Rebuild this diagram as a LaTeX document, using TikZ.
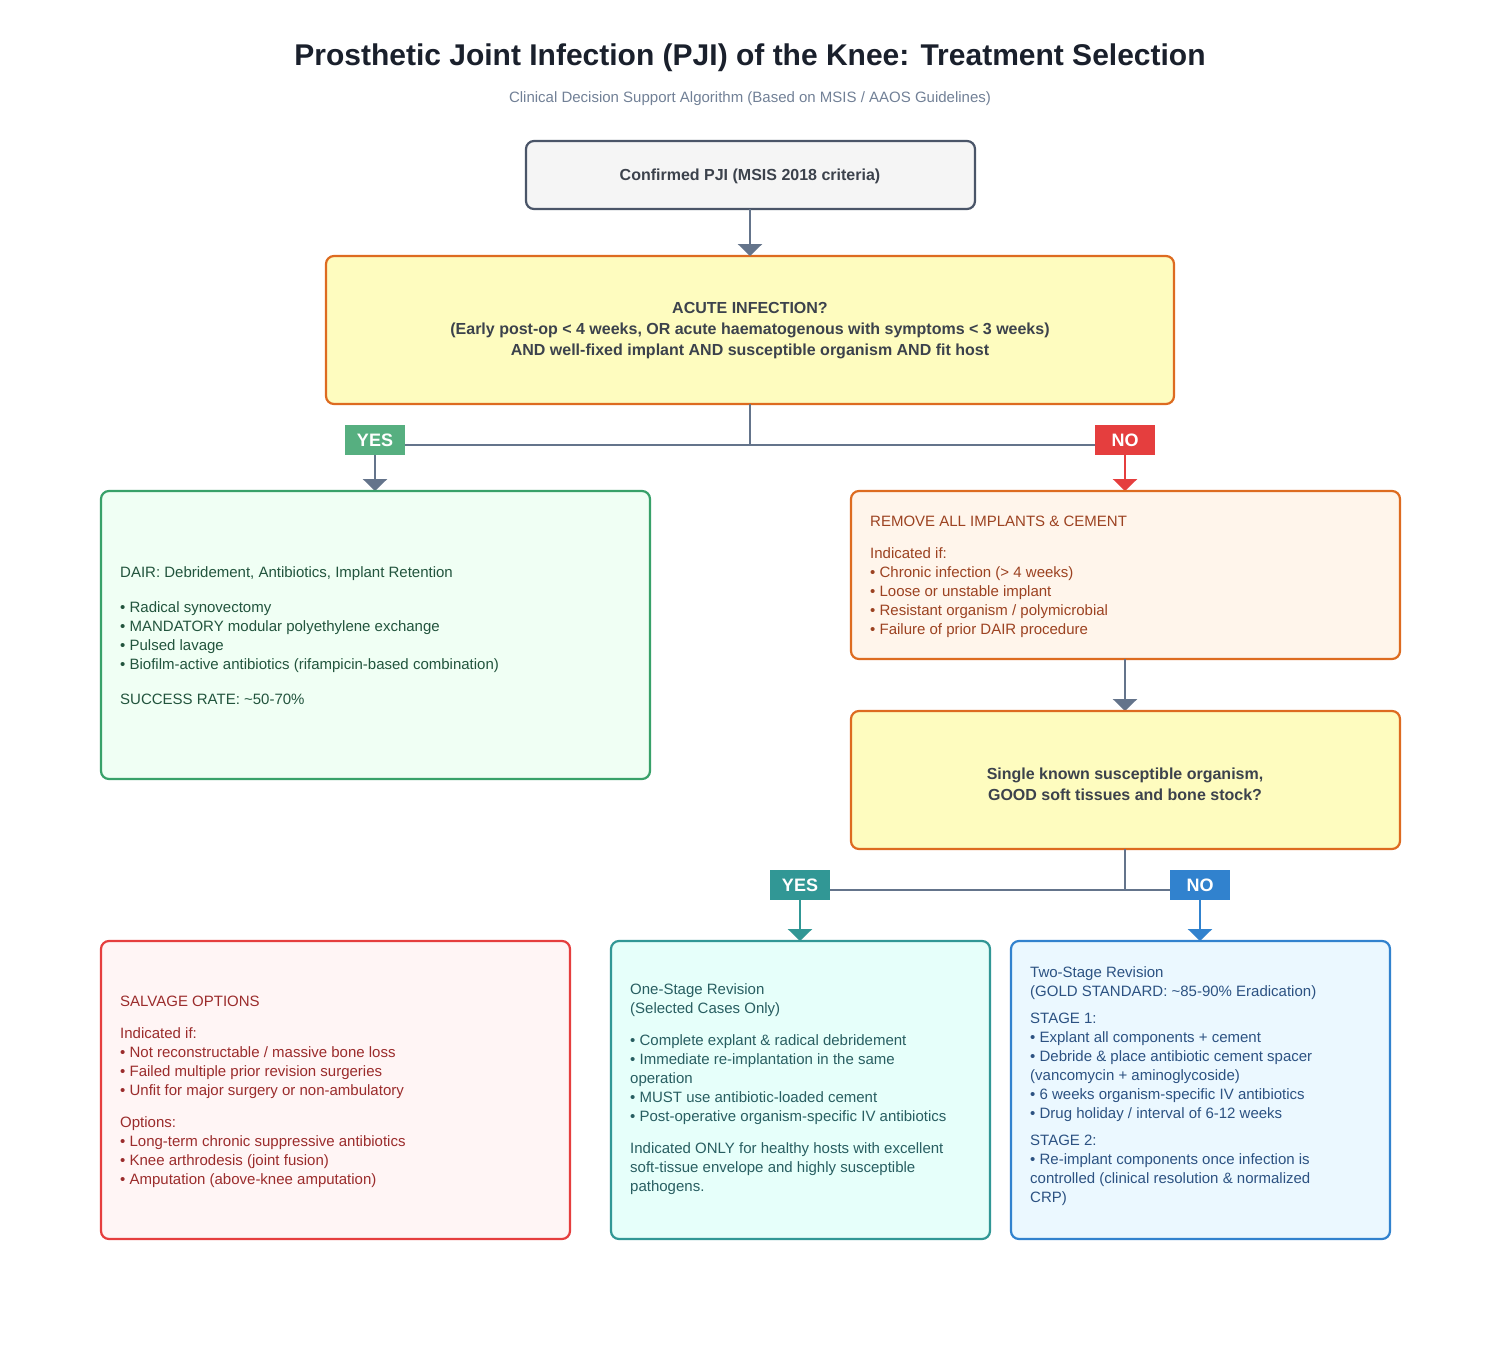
\documentclass[tikz,border=0pt]{standalone}
\usepackage{fontspec}
\setmainfont{Liberation Sans}
\usetikzlibrary{arrows.meta}
\definecolor{tgray}{HTML}{4A5568}
\definecolor{lgray}{HTML}{64748B}
\definecolor{orng}{HTML}{DD6B20}
\definecolor{yel}{HTML}{FEFCBF}
\definecolor{grn}{HTML}{38A169}
\definecolor{grnf}{HTML}{F0FFF4}
\definecolor{grnt}{HTML}{22543D}
\definecolor{remf}{HTML}{FFF5EB}
\definecolor{remt}{HTML}{9C4221}
\definecolor{redb}{HTML}{E53E3E}
\definecolor{redf}{HTML}{FFF5F5}
\definecolor{redt}{HTML}{9B2C2C}
\definecolor{teal}{HTML}{319795}
\definecolor{tealf}{HTML}{E6FFFA}
\definecolor{tealt}{HTML}{285E61}
\definecolor{blu}{HTML}{3182CE}
\definecolor{bluf}{HTML}{EBF8FF}
\definecolor{blut}{HTML}{2C5282}
\definecolor{ttl}{HTML}{1A202C}
\definecolor{sub}{HTML}{718096}
\begin{document}
\begin{tikzpicture}[x=1pt,y=-1pt,
  box/.style={rounded corners=8pt,line width=2.2pt},
  body/.style={anchor=north west,align=left,inner sep=0pt,font=\fontsize{15}{19}\selectfont},
  conn/.style={draw=lgray,line width=2.5pt},
  arr/.style={conn,-{Triangle[width=24pt,length=12pt]}},
  lab/.style={font=\fontsize{18}{20}\selectfont\bfseries,text=white,minimum width=60pt,minimum height=30pt,inner sep=0pt}]
\useasboundingbox (0,0) rectangle (1500,1350);
\node[font=\fontsize{30}{34}\selectfont\bfseries,text=ttl] (title) at (750,58) {Prosthetic Joint Infection (PJI) of the Knee: Treatment Selection};
\node[font=\fontsize{15}{18}\selectfont,text=sub] (subt) at (750,99) {Clinical Decision Support Algorithm (Based on MSIS / AAOS Guidelines)};

\draw[box,draw=tgray,fill=gray!8] (526,141) rectangle (975,209);
\node[font=\fontsize{16}{19}\selectfont\bfseries,text=ttl!85] (top) at (750,176) {Confirmed PJI (MSIS 2018 criteria)};
\coordinate (topb) at (750,209);
\draw[box,draw=orng,fill=yel] (326,256) rectangle (1174,404);
\node[font=\fontsize{16}{21}\selectfont\bfseries,text=ttl!85,align=center] (acute) at (750,331) {ACUTE INFECTION?\\(Early post-op < 4 weeks, OR acute haematogenous with symptoms < 3 weeks)\\AND well-fixed implant AND susceptible organism AND fit host};
\coordinate (acuteT) at (750,256);
\coordinate (acuteB) at (750,404);
\draw[arr] (topb) -- (acuteT);
\coordinate (j1) at (750,445);
\coordinate (yl) at (375,445);
\coordinate (nl) at (1125,445);
\draw[conn] (acuteB) -- (j1) (yl) -- (nl);
\node[lab,fill=grn!85!white] (yes1) at (375,440) {YES};
\node[lab,fill=redb] (no1) at (1125,440) {NO};
\coordinate (dairT) at (375,491);
\coordinate (remT) at (1125,491);
\draw[arr] (yes1.south) -- (dairT);
\draw[arr,draw=redb] (no1.south) -- (remT);

\draw[box,draw=grn,fill=grnf] (101,491) rectangle (650,779);
\node[body,text=grnt] (dair) at (120,566) {DAIR: Debridement, Antibiotics, Implant Retention\\[16pt]
• Radical synovectomy\\• MANDATORY modular polyethylene exchange\\• Pulsed lavage\\• Biofilm-active antibiotics (rifampicin-based combination)\\[16pt]
SUCCESS RATE: \textasciitilde50-70\%};

\draw[box,draw=orng,fill=remf] (851,491) rectangle (1400,659);
\node[body,text=remt] (rem) at (870,516) {REMOVE ALL IMPLANTS \& CEMENT\\[13pt]
Indicated if:\\• Chronic infection (> 4 weeks)\\• Loose or unstable implant\\• Resistant organism / polymicrobial\\• Failure of prior DAIR procedure};
\coordinate (remB) at (1125,659);
\coordinate (singT) at (1125,711);
\draw[arr] (remB) -- (singT);

\draw[box,draw=orng,fill=yel] (851,711) rectangle (1400,849);
\node[font=\fontsize{16}{21}\selectfont\bfseries,text=ttl!85,align=center] (sing) at (1125,784) {Single known susceptible organism,\\GOOD soft tissues and bone stock?};
\coordinate (singB) at (1125,849);
\coordinate (j2) at (1125,890);
\coordinate (yl2) at (800,890);
\coordinate (nl2) at (1200,890);
\draw[conn] (singB) -- (j2) (yl2) -- (nl2);
\node[lab,fill=teal] (yes2) at (800,885) {YES};
\node[lab,fill=blu] (no2) at (1200,885) {NO};
\coordinate (oneT) at (800,941);
\coordinate (twoT) at (1200,941);
\draw[arr,draw=teal] (yes2.south) -- (oneT);
\draw[arr,draw=blu] (no2.south) -- (twoT);

\draw[box,draw=redb,fill=redf] (101,941) rectangle (570,1239);
\node[body,text=redt] (salv) at (120,996) {SALVAGE OPTIONS\\[13pt]
Indicated if:\\• Not reconstructable / massive bone loss\\• Failed multiple prior revision surgeries\\• Unfit for major surgery or non-ambulatory\\[13pt]
Options:\\• Long-term chronic suppressive antibiotics\\• Knee arthrodesis (joint fusion)\\• Amputation (above-knee amputation)};

\draw[box,draw=teal,fill=tealf] (611,941) rectangle (990,1239);
\node[body,text=tealt] (one) at (630,983) {One-Stage Revision\\(Selected Cases Only)\\[13pt]
• Complete explant \& radical debridement\\• Immediate re-implantation in the same\\operation\\• MUST use antibiotic-loaded cement\\• Post-operative organism-specific IV antibiotics\\[13pt]
Indicated ONLY for healthy hosts with excellent\\soft-tissue envelope and highly susceptible\\pathogens.};

\draw[box,draw=blu,fill=bluf] (1011,941) rectangle (1390,1239);
\node[body,text=blut] (two) at (1030,966) {Two-Stage Revision\\(GOLD STANDARD: \textasciitilde85-90\% Eradication)\\[8pt]
STAGE 1:\\• Explant all components + cement\\• Debride \& place antibiotic cement spacer\\(vancomycin + aminoglycoside)\\• 6 weeks organism-specific IV antibiotics\\• Drug holiday / interval of 6-12 weeks\\[8pt]
STAGE 2:\\• Re-implant components once infection is\\controlled (clinical resolution \& normalized\\CRP)};
\end{tikzpicture}
\end{document}
